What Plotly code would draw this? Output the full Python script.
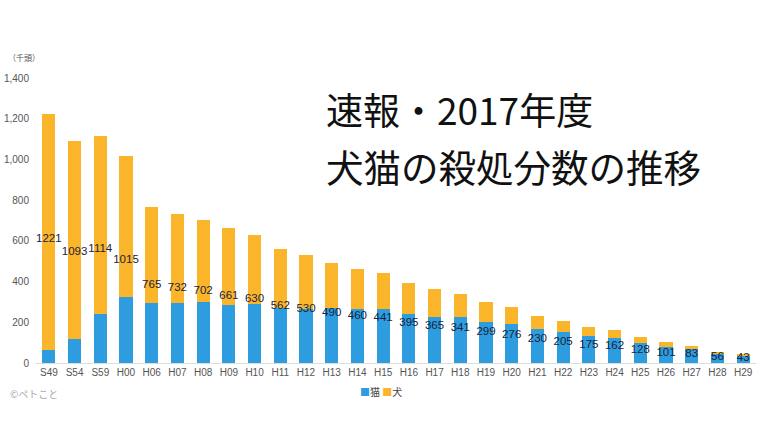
import plotly.graph_objects as go

categories = ["S49", "S54", "S59", "H00", "H06", "H07", "H08", "H09", "H10", "H11",
              "H12", "H13", "H14", "H15", "H16", "H17", "H18", "H19", "H20", "H21",
              "H22", "H23", "H24", "H25", "H26", "H27", "H28", "H29"]
totals = [1221, 1093, 1114, 1015, 765, 732, 702, 661, 630, 562,
          530, 490, 460, 441, 395, 365, 341, 299, 276, 230,
          205, 175, 162, 128, 101, 83, 56, 43]
cats = [62, 116, 242, 324, 296, 296, 300, 284, 292, 268,
        263, 270, 264, 264, 242, 227, 227, 200, 193, 167,
        154, 131, 121, 98, 78, 68, 46, 35]
dogs = [1159, 977, 872, 691, 469, 436, 402, 377, 338, 294,
        267, 220, 196, 177, 153, 138, 114, 99, 83, 63,
        51, 44, 41, 30, 23, 15, 10, 8]
label_pos = [t / 2 for t in totals]

BLUE = "#2d9de0"
YELLOW = "#fbb52b"
FONT = "Noto Sans CJK JP"

fig = go.Figure()
fig.add_trace(go.Bar(x=categories, y=cats, name="猫", marker=dict(color=BLUE, line=dict(width=0))))
fig.add_trace(go.Bar(x=categories, y=dogs, name="犬", marker=dict(color=YELLOW, line=dict(width=0))))
fig.add_trace(go.Scatter(x=categories, y=label_pos, mode="text",
                         text=[str(t) for t in totals],
                         textfont=dict(family="Liberation Sans, Arial", size=11.5, color="#1a2238"),
                         textposition="middle center", showlegend=False, hoverinfo="skip"))

W, H = 760, 427
l, r, t, b = 36, 4, 78, 64
pw, ph = W - l - r, H - t - b


def px(x, y):
    return (x - l) / pw, 1 - (y - t) / ph


def ann(text, x, y, size, color, anchor="left"):
    xx, yy = px(x, y)
    return dict(text=text, x=xx, y=yy, xref="paper", yref="paper", showarrow=False,
                font=dict(family=FONT, size=size, color=color), xanchor=anchor, yanchor="middle")


fig.update_layout(
    width=W, height=H,
    barmode="stack", bargap=0.49,
    plot_bgcolor="white", paper_bgcolor="white",
    margin=dict(l=l, r=r, t=t, b=b),
    showlegend=False,
    font=dict(family=FONT, color="#555"),
    xaxis=dict(showgrid=False, showline=True, linecolor="#dddddd", linewidth=1,
               ticks="", tickfont=dict(family="Liberation Sans, Arial", size=10, color="#555"),
               range=[-0.5, 27.5]),
    yaxis=dict(range=[0, 1400], tickvals=[0, 200, 400, 600, 800, 1000, 1200, 1400],
               ticktext=["0", "200", "400", "600", "800", "1,000", "1,200", "1,400"],
               showgrid=False, zeroline=False, showline=False, ticks="",
               ticklabelstandoff=6,
               tickfont=dict(family="Liberation Sans, Arial", size=10, color="#555")),
    annotations=[
        ann("（千頭）", 6, 57, 8, "#555"),
        ann("速報・2017年度", 324, 109, 37, "#111"),
        ann("犬猫の殺処分数の推移", 324, 165, 37.5, "#111"),
        ann("<span style='color:%s'>■</span>猫 <span style='color:%s'>■</span>犬" % (BLUE, YELLOW),
            381, 391, 10, "#444", anchor="center"),
        ann("©ペトこと", 8, 394, 10, "#aaa"),
    ],
)

fig.write_html("out.html")
